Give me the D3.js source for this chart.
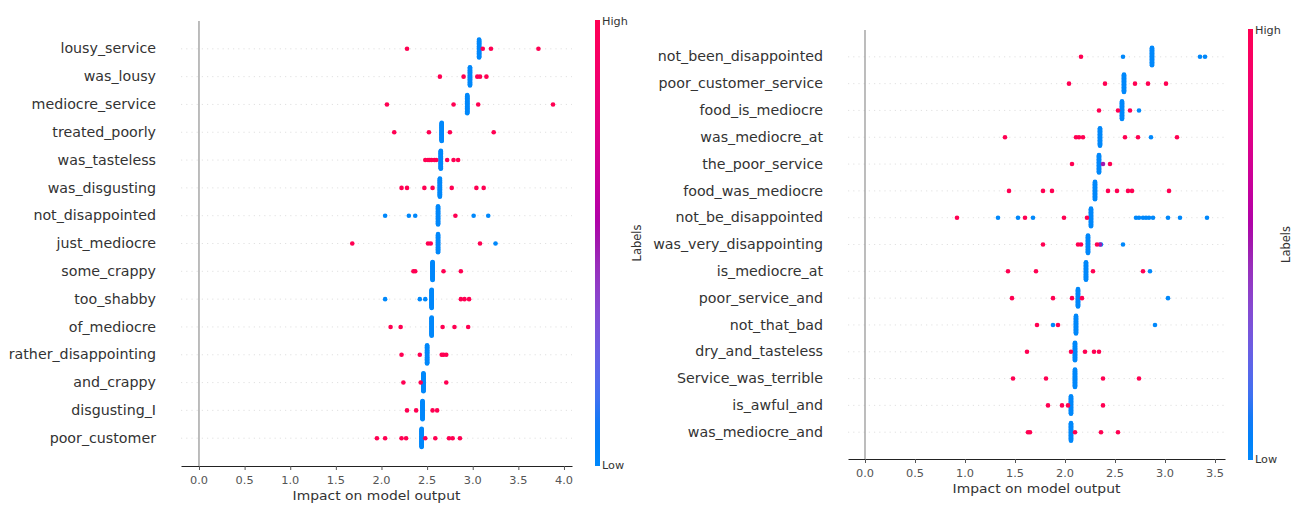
<!DOCTYPE html>
<html>
<head>
<meta charset="utf-8">
<script src="https://cdn.jsdelivr.net/npm/d3@7"></script>
<style>
  body { margin: 0; background: #fff; }
  text { font-family: "DejaVu Sans", sans-serif; }
</style>
</head>
<body>
<svg id="chart" width="1294" height="505"></svg>
<script>
// ---- Left summary plot ----
const leftFeatures = ["lousy_service", "was_lousy", "mediocre_service", "treated_poorly", "was_tasteless",
  "was_disgusting", "not_disappointed", "just_mediocre", "some_crappy", "too_shabby", "of_mediocre",
  "rather_disappointing", "and_crappy", "disgusting_I", "poor_customer"];
// value of the dense column of low-label samples in each row
const leftCenters = [3.07, 2.97, 2.94, 2.66, 2.65, 2.64, 2.62, 2.62, 2.56, 2.55, 2.55, 2.50, 2.46, 2.45, 2.44];
const leftHigh = [
  [2.28, 3.11, 3.20, 3.72],
  [2.64, 2.90, 3.05, 3.08, 3.15],
  [2.06, 2.79, 3.06, 3.88],
  [2.14, 2.52, 2.75, 3.23],
  [2.48, 2.51, 2.53, 2.55, 2.58, 2.60, 2.72, 2.79, 2.84],
  [2.22, 2.28, 2.47, 2.56, 2.77, 3.04, 3.12],
  [2.81],
  [1.68, 2.51, 2.54, 3.08],
  [2.35, 2.37, 2.68, 2.87],
  [2.87, 2.91, 2.96],
  [2.10, 2.21, 2.67, 2.80, 2.95],
  [2.22, 2.42, 2.66, 2.68, 2.71],
  [2.24, 2.43, 2.71],
  [2.28, 2.38, 2.56, 2.61],
  [1.95, 2.04, 2.22, 2.27, 2.48, 2.59, 2.74, 2.78, 2.86]
];
const leftLow = [
  [], [], [], [], [], [],
  [2.04, 2.30, 2.37, 3.01, 3.17],
  [3.25],
  [],
  [2.04, 2.42, 2.48],
  [], [], [], [], []
];
const leftMid = [[], [], [], [], [], [], [], [], [], [], [], [], [], [], []];
const leftTicks = [0, 0.5, 1, 1.5, 2, 2.5, 3, 3.5, 4];

// ---- Right summary plot ----
const rightFeatures = ["not_been_disappointed", "poor_customer_service", "food_is_mediocre", "was_mediocre_at",
  "the_poor_service", "food_was_mediocre", "not_be_disappointed", "was_very_disappointing", "is_mediocre_at",
  "poor_service_and", "not_that_bad", "dry_and_tasteless", "Service_was_terrible", "is_awful_and", "was_mediocre_and"];
const rightCenters = [2.87, 2.59, 2.57, 2.35, 2.34, 2.30, 2.26, 2.23, 2.21, 2.13, 2.11, 2.10, 2.10, 2.06, 2.06];
const rightHigh = [
  [2.16],
  [2.04, 2.40, 2.70, 2.83, 3.01],
  [2.34, 2.53, 2.65],
  [1.40, 2.11, 2.14, 2.18, 2.60, 2.73, 3.12],
  [2.07, 2.45],
  [1.44, 1.78, 1.87, 2.43, 2.52, 2.63, 2.67, 3.04],
  [0.92, 1.60, 1.99, 2.22],
  [1.78, 2.13, 2.16, 2.32],
  [1.43, 1.71, 2.28, 2.78],
  [1.47, 1.88, 2.07, 2.17],
  [1.72, 1.93],
  [1.62, 2.06, 2.20, 2.29, 2.34],
  [1.48, 1.81, 2.38, 2.74],
  [1.83, 1.97, 2.03, 2.38],
  [1.63, 1.65, 2.10, 2.36, 2.53]
];
const rightLow = [
  [2.58, 3.35, 3.40],
  [],
  [2.74],
  [2.86],
  [],
  [],
  [1.33, 1.53, 1.68, 2.71, 2.74, 2.78, 2.81, 2.84, 2.88, 3.03, 3.15, 3.42],
  [2.36, 2.58],
  [2.85],
  [3.03],
  [1.88, 2.90],
  [], [], [], []
];
const rightMid = [[], [], [], [], [2.38], [], [], [2.35], [], [], [], [], [], [], []];
const rightTicks = [0, 0.5, 1, 1.5, 2, 2.5, 3, 3.5];

const colorLabels = ["Low", "High"];
const colorTitle = "Labels";
const xTitle = "Impact on model output";
const COLUMN_SIZE = 30;   // samples stacked in each dense column

// red-blue colour map: blue -> purple -> red in LCh, lightness dipping in the middle
function redBlue(t) {
  const l = t < 0.5 ? 54 + (40 - 54) * (t / 0.5) : 40 + (54 - 40) * ((t - 0.5) / 0.5);
  const c = 70 + (90 - 70) * t;
  const h = 266.93 + (380.32 - 266.93) * t;
  return d3.hcl(h % 360, c, l).formatHex();
}

// vertical offsets for a beeswarm row (values binned, stacked alternately up/down)
function swarmOffsets(values, rowHeight) {
  const nbins = 100;
  const mn = d3.min(values), mx = d3.max(values);
  const quant = values.map(v => Math.round(nbins * (v - mn) / (mx - mn + 1e-8)));
  const order = d3.range(values.length).sort((a, b) => quant[a] - quant[b] || a - b);
  const ys = new Array(values.length).fill(0);
  let layer = 0, last = -1;
  for (const i of order) {
    if (quant[i] !== last) layer = 0;
    ys[i] = Math.ceil(layer / 2) * ((layer % 2) * 2 - 1);
    layer++;
    last = quant[i];
  }
  const m = d3.max(ys, y => y + 1);
  return ys.map(y => y * 0.9 * (rowHeight / m));
}

const svg = d3.select("#chart");
const STRETCH = 1.07;

function stretchedText(g, x, y, str, opts) {
  return g.append("text")
    .attr("transform", `translate(${x},${y}) scale(${STRETCH},1)`)
    .attr("text-anchor", opts.anchor || "start")
    .attr("dy", opts.dy || "0.35em")
    .attr("font-size", opts.size)
    .attr("fill", opts.fill || "#333")
    .text(str);
}

function drawPanel(cfg) {
  const n = cfg.features.length;
  const g = svg.append("g");
  const x = d3.scaleLinear().domain(cfg.xDomain).range([cfg.left, cfg.right]);
  // position n-1 at the top, 0 at the bottom
  const y = d3.scaleLinear().domain([-1, n]).range([cfg.bottom, cfg.top]);

  // dotted row guides
  cfg.features.forEach((f, i) => {
    const pos = n - 1 - i;
    g.append("line")
      .attr("x1", cfg.left).attr("x2", cfg.right)
      .attr("y1", y(pos)).attr("y2", y(pos))
      .attr("stroke", "#d9d9d9").attr("stroke-width", 0.8)
      .attr("stroke-dasharray", "1.2 4");
  });

  // zero line
  g.append("line")
    .attr("x1", x(0)).attr("x2", x(0))
    .attr("y1", cfg.top).attr("y2", cfg.bottom)
    .attr("stroke", "#999").attr("stroke-width", 1.3);

  // points
  cfg.features.forEach((f, i) => {
    const pos = n - 1 - i;
    const pts = [];
    for (let k = 0; k < COLUMN_SIZE; k++) pts.push({ v: cfg.centers[i], t: 0 });
    cfg.low[i].forEach(v => pts.push({ v, t: 0 }));
    cfg.mid[i].forEach(v => pts.push({ v, t: 0.5 }));
    cfg.high[i].forEach(v => pts.push({ v, t: 1 }));
    const offs = swarmOffsets(pts.map(p => p.v), 0.4);
    g.append("g").selectAll("circle").data(pts).join("circle")
      .attr("cx", d => x(d.v))
      .attr("cy", (d, k) => y(pos + offs[k]))
      .attr("r", 2.3)
      .attr("fill", d => redBlue(d.t));
  });

  // feature labels
  cfg.features.forEach((f, i) => {
    stretchedText(g, cfg.left - 25, y(n - 1 - i), f, { anchor: "end", size: 13.3, fill: "#333" });
  });

  // x axis
  const axis = d3.axisBottom(x).tickValues(cfg.ticks).tickFormat(d3.format(".1f"))
    .tickSize(4).tickSizeOuter(0).tickPadding(4);
  const ax = g.append("g").attr("transform", `translate(0,${cfg.bottom})`).call(axis);
  ax.select(".domain").attr("stroke", "#222").attr("stroke-width", 1.1);
  ax.selectAll(".tick line").attr("stroke", "#555");
  ax.selectAll(".tick text").remove();
  cfg.ticks.forEach(t => {
    stretchedText(g, x(t), cfg.bottom + 14, d3.format(".1f")(t), { anchor: "middle", size: 10.6, fill: "#555" });
  });
  stretchedText(g, (cfg.left + cfg.right) / 2, cfg.bottom + 29, xTitle, { anchor: "middle", size: 13, fill: "#333" });

  // colour bar
  const gradId = "grad" + cfg.id;
  const grad = svg.append("defs").append("linearGradient")
    .attr("id", gradId).attr("x1", 0).attr("x2", 0).attr("y1", 1).attr("y2", 0);
  d3.range(0, 1.0001, 0.05).forEach(t => {
    grad.append("stop").attr("offset", t).attr("stop-color", redBlue(t));
  });
  g.append("rect")
    .attr("x", cfg.cbX).attr("y", cfg.cbTop)
    .attr("width", 5).attr("height", cfg.cbBottom - cfg.cbTop)
    .attr("fill", `url(#${gradId})`);
  stretchedText(g, cfg.cbX + 7, cfg.cbTop + 1, colorLabels[1], { size: 10.5, fill: "#333" });
  stretchedText(g, cfg.cbX + 7, cfg.cbBottom - 1, colorLabels[0], { size: 10.5, fill: "#333" });
  g.append("text")
    .attr("transform", `translate(${cfg.cbX + cfg.titleGap},${(cfg.cbTop + cfg.cbBottom) / 2}) rotate(-90)`)
    .attr("text-anchor", "middle").attr("dy", "0.35em")
    .attr("font-size", 11.5).attr("fill", "#333")
    .text(colorTitle);
}

drawPanel({
  id: "L", features: leftFeatures, centers: leftCenters, high: leftHigh, low: leftLow, mid: leftMid,
  ticks: leftTicks, xDomain: [-0.197, 4.088], left: 181, right: 572, top: 21, bottom: 466,
  cbX: 595, cbTop: 20, cbBottom: 466, titleGap: 42
});
drawPanel({
  id: "R", features: rightFeatures, centers: rightCenters, high: rightHigh, low: rightLow, mid: rightMid,
  ticks: rightTicks, xDomain: [-0.17, 3.6], left: 848, right: 1225, top: 30, bottom: 459,
  cbX: 1248, cbTop: 29, cbBottom: 460, titleGap: 38
});
</script>
</body>
</html>
